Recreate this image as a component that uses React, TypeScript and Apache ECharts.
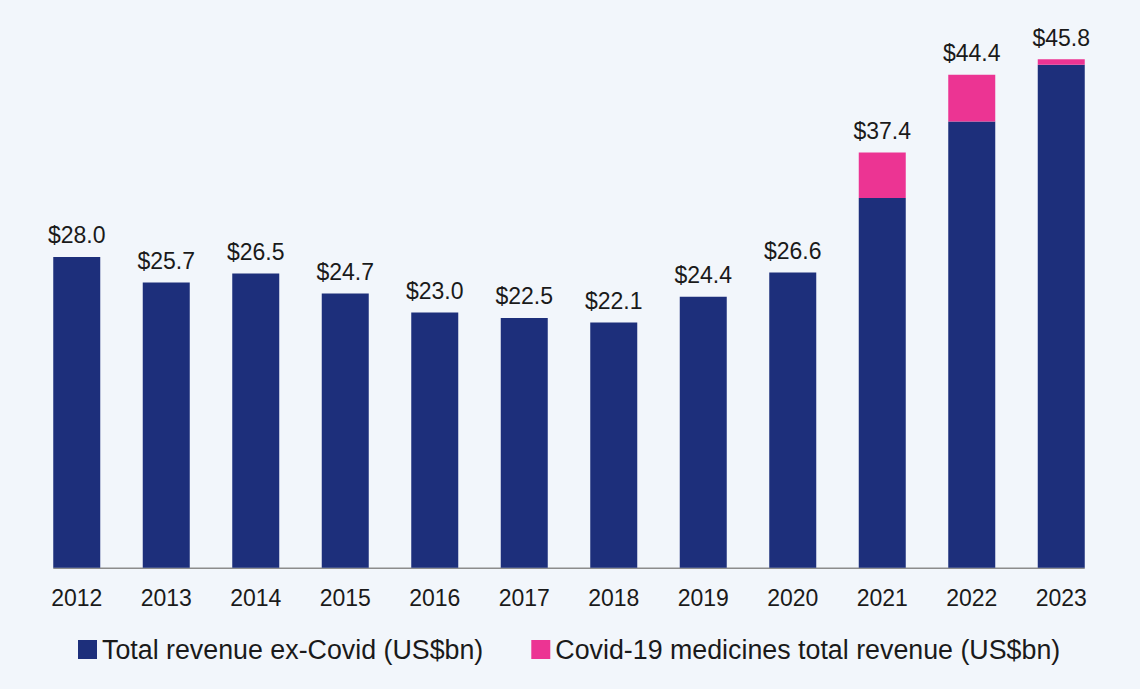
import React, { useEffect, useRef } from "react";
import * as echarts from "echarts";

const years = ["2012", "2013", "2014", "2015", "2016", "2017", "2018", "2019", "2020", "2021", "2022", "2023"];
const exCovid = [28.0, 25.7, 26.5, 24.7, 23.0, 22.5, 22.1, 24.4, 26.6, 33.3, 40.2, 45.3];
const covid = [0, 0, 0, 0, 0, 0, 0, 0, 0, 4.1, 4.2, 0.5];
const totals = [28.0, 25.7, 26.5, 24.7, 23.0, 22.5, 22.1, 24.4, 26.6, 37.4, 44.4, 45.8];

const NAVY = "#1d2f7b";
const PINK = "#ec3493";
const FONT = "'Liberation Sans', Arial, sans-serif";
const BAR_W = 47;

export default function App() {
  const ref = useRef<HTMLDivElement>(null);
  useEffect(() => {
    document.body.style.margin = "0";
    const chart = echarts.init(ref.current!, null, { renderer: "svg" });
    chart.setOption({
      animation: false,
      backgroundColor: "#f2f6fb",
      textStyle: { fontFamily: FONT },
      grid: { left: 32, right: 34, top: 12.7, bottom: 121.3 },
      legend: {
        top: 631,
        left: 73,
        itemWidth: 19,
        itemHeight: 19,
        itemGap: 48,
        itemTextGap: 7,
        icon: "rect",
        textStyle: { fontSize: 26.8, color: "#1a1a1a", fontFamily: FONT },
        data: ["Total revenue ex-Covid (US$bn)", "Covid-19 medicines total revenue (US$bn)"],
      },
      xAxis: {
        type: "category",
        data: years,
        axisLine: { show: false },
        axisTick: { show: false },
        axisLabel: { fontSize: 23, color: "#1a1a1a", margin: 19, fontFamily: FONT },
      },
      yAxis: {
        type: "value",
        min: 0,
        max: 50,
        show: false,
        splitLine: { show: false },
      },
      series: [
        {
          name: "Total revenue ex-Covid (US$bn)",
          type: "bar",
          stack: "t",
          barWidth: BAR_W,
          data: exCovid,
          itemStyle: { color: NAVY },
        },
        {
          name: "Covid-19 medicines total revenue (US$bn)",
          type: "bar",
          stack: "t",
          barWidth: BAR_W,
          data: covid,
          itemStyle: { color: PINK },
          label: {
            show: true,
            position: "top",
            distance: 10,
            fontSize: 23,
            color: "#1a1a1a",
            fontFamily: FONT,
            formatter: (p: any) => "$" + totals[p.dataIndex].toFixed(1),
          },
        },
      ],
    });
    const x0 = chart.convertToPixel({ xAxisIndex: 0 }, 0) as number;
    const x1 = chart.convertToPixel({ xAxisIndex: 0 }, years.length - 1) as number;
    const y0 = chart.convertToPixel({ yAxisIndex: 0 }, 0) as number;
    chart.setOption({
      graphic: [
        {
          type: "line",
          z: 0,
          shape: { x1: x0 - BAR_W / 2, y1: y0 + 0.5, x2: x1 + BAR_W / 2, y2: y0 + 0.5 },
          style: { stroke: "#8c8c8c", lineWidth: 1.5 },
        },
      ],
    });
    return () => chart.dispose();
  }, []);
  return <div ref={ref} style={{ width: 1140, height: 689 }} />;
}
